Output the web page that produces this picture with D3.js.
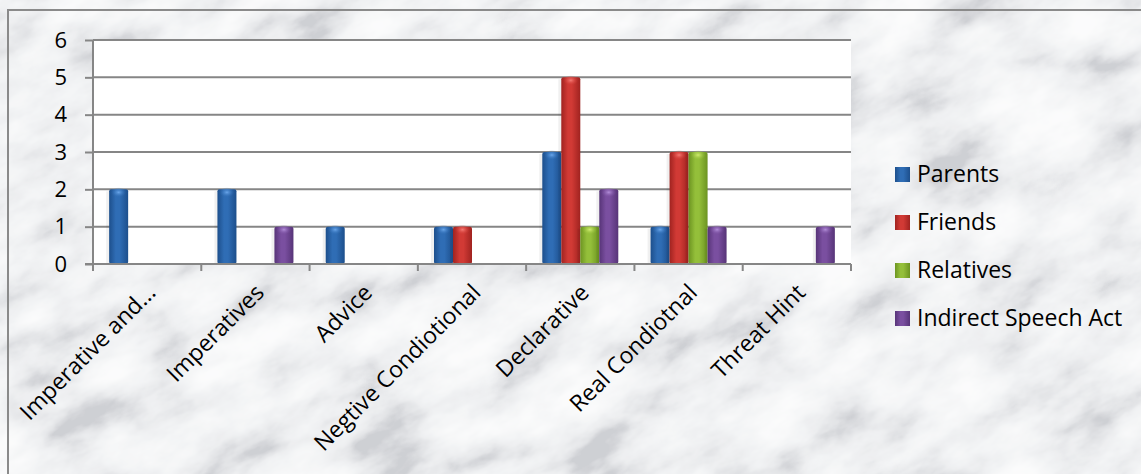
<!DOCTYPE html>
<html>
<head>
<meta charset="utf-8">
<script src="https://cdn.jsdelivr.net/npm/d3@7"></script>
<style>
  html, body { margin: 0; padding: 0; background: #fff; }
  svg { display: block; font-family: "Open Sans", "DejaVu Sans", sans-serif; }
</style>
</head>
<body>
<div id="chart"></div>
<script>
// chart data
var categories = ["Imperative and...", "Imperatives", "Advice", "Negtive Condiotional", "Declarative", "Real Condiotnal", "Threat Hint"];
var seriesNames = ["Parents", "Friends", "Relatives", "Indirect Speech Act"];
var parents   = [2, 2, 1, 1, 3, 1, 0];
var friends   = [0, 0, 0, 1, 5, 3, 0];
var relatives = [0, 0, 0, 0, 1, 3, 0];
var indirect  = [0, 1, 0, 0, 2, 1, 1];
var yTicks = [0, 1, 2, 3, 4, 5, 6];

var seriesValues = [parents, friends, relatives, indirect];
var colors = [
  { base: "#2f6db5", dark: "#1d4f8c", light: "#6aa6ea" },
  { base: "#d13a35", dark: "#a02320", light: "#f57a74" },
  { base: "#94bf3a", dark: "#6c9421", light: "#d0ec70" },
  { base: "#7a4fa0", dark: "#573478", light: "#b28dd8" }
];

var W = 1141, H = 474;
var plot = { left: 93, right: 851, top: 40, bottom: 264 };

var svg = d3.select("#chart").append("svg")
  .attr("width", W)
  .attr("height", H);

var defs = svg.append("defs");

// marble-ish background
var marble = defs.append("filter").attr("id", "marble")
  .attr("x", 0).attr("y", 0).attr("width", "100%").attr("height", "100%");
marble.append("feTurbulence")
  .attr("type", "fractalNoise")
  .attr("baseFrequency", "0.011 0.022")
  .attr("numOctaves", 5)
  .attr("seed", 4)
  .attr("result", "noise");
marble.append("feColorMatrix")
  .attr("in", "noise")
  .attr("type", "matrix")
  .attr("values",
    "1.7 0 0 0 -0.35 " +
    "1.7 0 0 0 -0.35 " +
    "1.7 0 0 0 -0.35 " +
    "0 0 0 0 1")
  .attr("result", "gray");
marble.append("feComponentTransfer")
  .attr("in", "gray")
  .call(function(ct) {
    ct.append("feFuncR").attr("type", "table").attr("tableValues", "0.62 0.76 0.85 0.9 0.94 0.97");
    ct.append("feFuncG").attr("type", "table").attr("tableValues", "0.63 0.77 0.86 0.91 0.945 0.972");
    ct.append("feFuncB").attr("type", "table").attr("tableValues", "0.66 0.79 0.875 0.92 0.95 0.975");
  });

svg.append("rect")
  .attr("width", W).attr("height", H)
  .attr("fill", "#e2e4e6");
svg.append("g")
  .attr("transform", "rotate(-25 570 237)")
  .append("rect")
  .attr("x", -400).attr("y", -400)
  .attr("width", W + 800).attr("height", H + 800)
  .attr("filter", "url(#marble)");

// outer border (left and top only, picture is cropped)
svg.append("path")
  .attr("d", "M8," + H + " L8,10 L" + W + ",10")
  .attr("fill", "none")
  .attr("stroke", "#8a8a8a")
  .attr("stroke-width", 2);

// gradients for bars
colors.forEach(function(c, i) {
  var g = defs.append("linearGradient")
    .attr("id", "bar" + i)
    .attr("x1", 0).attr("x2", 1).attr("y1", 0).attr("y2", 0);
  g.append("stop").attr("offset", "0%").attr("stop-color", c.dark);
  g.append("stop").attr("offset", "35%").attr("stop-color", c.base);
  g.append("stop").attr("offset", "55%").attr("stop-color", c.base);
  g.append("stop").attr("offset", "100%").attr("stop-color", c.dark);

  var cap = defs.append("radialGradient")
    .attr("id", "cap" + i);
  cap.append("stop").attr("offset", "0%").attr("stop-color", c.light);
  cap.append("stop").attr("offset", "100%").attr("stop-color", c.base).attr("stop-opacity", 0);
});

var x = d3.scaleBand()
  .domain(categories)
  .range([plot.left, plot.right])
  .paddingInner(0).paddingOuter(0);

var xs = d3.scaleBand()
  .domain(d3.range(seriesNames.length))
  .range([0, x.bandwidth()])
  .paddingInner(0).paddingOuter(0.85);

var y = d3.scaleLinear()
  .domain([0, 6])
  .range([plot.bottom, plot.top]);

// plot area
svg.append("rect")
  .attr("x", plot.left).attr("y", plot.top)
  .attr("width", plot.right - plot.left)
  .attr("height", plot.bottom - plot.top)
  .attr("fill", "#ffffff");

// gridlines
svg.append("g")
  .selectAll("line")
  .data(yTicks.filter(function(d) { return d > 0; }))
  .enter().append("line")
  .attr("x1", plot.left).attr("x2", plot.right)
  .attr("y1", function(d) { return y(d); })
  .attr("y2", function(d) { return y(d); })
  .attr("stroke", "#868686")
  .attr("stroke-width", 2);

// y axis
var yAxis = svg.append("g")
  .attr("transform", "translate(" + plot.left + ",0)")
  .call(d3.axisLeft(y).tickValues(yTicks).tickFormat(d3.format("d")).tickSize(8).tickPadding(18));
yAxis.selectAll("path, line").attr("stroke", "#868686").attr("stroke-width", 2);
yAxis.select(".domain").attr("d", "M0," + plot.top + "V" + plot.bottom);
yAxis.selectAll("text")
  .attr("fill", "#000")
  .style("font-size", "22px")
  .style("font-family", "'Open Sans', sans-serif");

// bars
var bars = svg.append("g");
seriesValues.forEach(function(vals, s) {
  var g = bars.append("g");
  var data = categories.map(function(c, i) { return { cat: c, value: vals[i] }; })
    .filter(function(d) { return d.value > 0; });

  // soft shadow
  g.selectAll(".shadow")
    .data(data)
    .enter().append("rect")
    .attr("x", function(d) { return x(d.cat) + xs(s) - 3; })
    .attr("y", function(d) { return y(d.value) + 2; })
    .attr("width", xs.bandwidth() + 3)
    .attr("height", function(d) { return y(0) - y(d.value) - 2; })
    .attr("fill", "#000")
    .attr("opacity", 0.06);

  g.selectAll(".bar")
    .data(data)
    .enter().append("rect")
    .attr("x", function(d) { return x(d.cat) + xs(s); })
    .attr("y", function(d) { return y(d.value); })
    .attr("width", xs.bandwidth())
    .attr("height", function(d) { return y(0) - y(d.value); })
    .attr("rx", 2)
    .attr("fill", "url(#bar" + s + ")");

  g.selectAll(".cap")
    .data(data)
    .enter().append("ellipse")
    .attr("cx", function(d) { return x(d.cat) + xs(s) + xs.bandwidth() / 2; })
    .attr("cy", function(d) { return y(d.value) + 3; })
    .attr("rx", xs.bandwidth() / 2 - 2)
    .attr("ry", 5)
    .attr("fill", "url(#cap" + s + ")");
});

// x axis
var xAxisG = svg.append("g")
  .attr("transform", "translate(0," + plot.bottom + ")");
xAxisG.append("line")
  .attr("x1", plot.left - 8).attr("x2", plot.right)
  .attr("y1", 0).attr("y2", 0)
  .attr("stroke", "#868686").attr("stroke-width", 2);
var boundaries = categories.map(function(c) { return x(c); }).concat([plot.right]);
xAxisG.selectAll(".xt")
  .data(boundaries)
  .enter().append("line")
  .attr("x1", function(d) { return d; }).attr("x2", function(d) { return d; })
  .attr("y1", 0).attr("y2", 7)
  .attr("stroke", "#868686").attr("stroke-width", 2);

svg.append("g")
  .selectAll("text")
  .data(categories)
  .enter().append("text")
  .attr("transform", function(d) {
    var cx = x(d) + x.bandwidth() / 2 + 10;
    return "translate(" + cx + "," + 294 + ") rotate(-45)";
  })
  .attr("text-anchor", "end")
  .style("font-size", "23px")
  .attr("fill", "#000")
  .text(function(d) { return d; });

// legend
var legend = svg.append("g")
  .attr("transform", "translate(895,174)");
var li = legend.selectAll("g")
  .data(seriesNames)
  .enter().append("g")
  .attr("transform", function(d, i) { return "translate(0," + (i * 48) + ")"; });
li.append("rect")
  .attr("x", 0).attr("y", -7)
  .attr("width", 15).attr("height", 15)
  .attr("fill", function(d, i) { return "url(#bar" + i + ")"; });
li.append("text")
  .attr("x", 22)
  .attr("y", 0)
  .attr("dy", "0.36em")
  .style("font-size", "23px")
  .attr("fill", "#000")
  .text(function(d) { return d; });
</script>
</body>
</html>
